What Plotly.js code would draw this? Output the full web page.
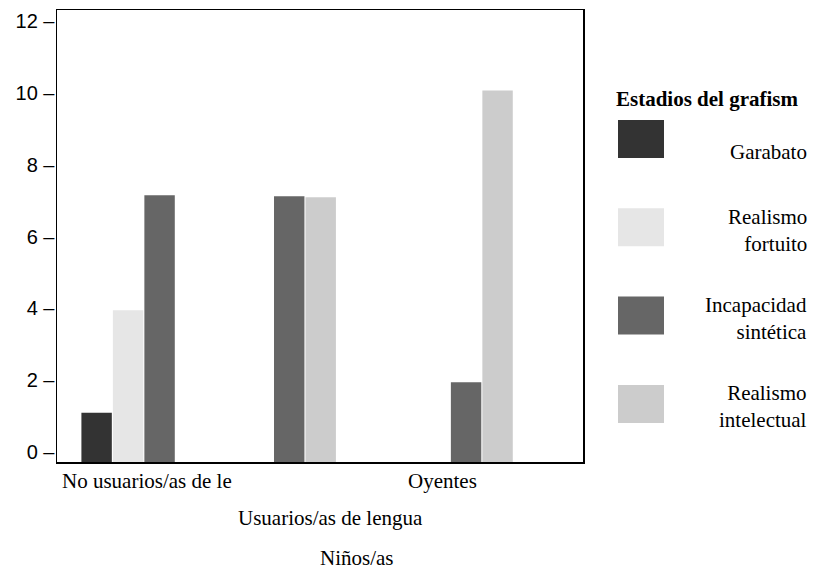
<!DOCTYPE html>
<html>
<head>
<meta charset="utf-8">
<script src="https://cdn.plot.ly/plotly-3.0.1.min.js"></script>
<style>
  html, body { margin: 0; padding: 0; background: #ffffff; }
  #chart { width: 813px; height: 575px; }
</style>
</head>
<body>
<div id="chart"></div>
<script>
// ---------- data ----------
const categories = ["No usuarios/as de le", "Usuarios/as de lengua", "Oyentes"];
const seriesNames = ["Garabato", "Realismo fortuito", "Incapacidad sintética", "Realismo intelectual"];
const garabato = [1.1, null, null];
const realismoFortuito = [3.95, null, null];
const incapacidadSintetica = [7.15, 7.12, 1.95];
const realismoIntelectual = [null, 7.09, 10.06];
const yTickValues = [0, 2, 4, 6, 8, 10, 12];
const xAxisTitle = "Niños/as";
const legendTitle = "Estadios del grafism";

// ---------- style ----------
const seriesColors = ["#333333", "#e6e6e6", "#666666", "#cccccc"];
const seriesValues = [garabato, realismoFortuito, incapacidadSintetica, realismoIntelectual];
const W = 813, H = 575;
const M = { l: 57, r: 230, t: 10, b: 113 };
const PW = W - M.l - M.r, PH = H - M.t - M.b;
const Y_MIN = -0.27, Y_MAX = 12.30;
const X_RANGE = [-0.402, 2.572];
const SLOT = 0.178, BAR_W = 0.172;
const serif = "'Liberation Serif', 'Times New Roman', serif";
const sans = "'Liberation Sans', Arial, sans-serif";

const px2x = px => (px - M.l) / PW;
const px2y = py => (H - M.b - py) / PH;

// present bars in each category are centred on the category position
const offsets = seriesValues.map(() => categories.map(() => 0));
categories.forEach((c, j) => {
  const present = seriesValues.map((s, i) => s[j] != null ? i : -1).filter(i => i >= 0);
  const n = present.length;
  present.forEach((i, k) => {
    offsets[i][j] = (k - n / 2) * SLOT + (SLOT - BAR_W) / 2;
  });
});

const traces = seriesNames.map((name, i) => ({
  type: "bar",
  name: name,
  x: categories,
  y: seriesValues[i].map(v => v == null ? null : v - Y_MIN),
  base: Y_MIN,
  width: BAR_W,
  offset: offsets[i],
  customdata: seriesValues[i],
  hovertemplate: "%{x}<br>" + name + ": %{customdata}<extra></extra>",
  marker: { color: seriesColors[i], line: { width: 0 } },
  showlegend: false
}));

// ---------- category labels (staggered) + axis title ----------
const labelCentersPx = [147, 330, 442];
const labelRowsPx = [481, 517.5, 481];
const annotations = categories.map((c, j) => ({
  xref: "paper", yref: "paper",
  x: px2x(labelCentersPx[j]), y: px2y(labelRowsPx[j]),
  xanchor: "center", yanchor: "middle",
  text: c, showarrow: false,
  font: { family: serif, size: 21, color: "#000" }
}));
annotations.push({
  xref: "paper", yref: "paper",
  x: px2x(357), y: px2y(558),
  xanchor: "center", yanchor: "middle",
  text: xAxisTitle, showarrow: false,
  font: { family: serif, size: 21, color: "#000" }
});

// ---------- legend (drawn manually) ----------
const shapes = [];
annotations.push({
  xref: "paper", yref: "paper",
  x: px2x(614), y: px2y(99),
  xanchor: "left", yanchor: "middle",
  text: "<b>" + legendTitle + "</b>", showarrow: false,
  font: { family: serif, size: 21, color: "#000" }
});
const swTop0 = 120, swStep = 88.3, swH = 38;
seriesNames.forEach((name, i) => {
  const top = swTop0 + swStep * i;
  shapes.push({
    type: "rect", xref: "paper", yref: "paper",
    x0: px2x(618), x1: px2x(664),
    y0: px2y(top + swH), y1: px2y(top),
    fillcolor: seriesColors[i], line: { width: 0 }
  });
  const lines = name.split(" ");
  const cy = top + swH / 2;
  annotations.push({
    xref: "paper", yref: "paper",
    x: px2x(809), y: px2y(lines.length > 1 ? cy + 3 : cy + 13),
    xanchor: "right", yanchor: "middle", align: "right",
    text: lines.join("<br>"), showarrow: false,
    font: { family: serif, size: 21, color: "#000" }
  });
});

const layout = {
  width: W, height: H,
  margin: M,
  paper_bgcolor: "#ffffff",
  plot_bgcolor: "#ffffff",
  barmode: "overlay",
  showlegend: false,
  xaxis: {
    type: "category",
    range: X_RANGE,
    showline: true, mirror: true, linecolor: "#000", linewidth: 1.5,
    showgrid: false, zeroline: false,
    ticks: "", showticklabels: false,
    fixedrange: true
  },
  yaxis: {
    range: [Y_MIN, Y_MAX],
    tickmode: "array", tickvals: yTickValues,
    ticktext: yTickValues.map(v => v + " –"),
    ticks: "",
    ticklabelstandoff: -3,
    tickfont: { family: sans, size: 20, color: "#000" },
    showline: true, mirror: true, linecolor: "#000", linewidth: 1.5,
    showgrid: false, zeroline: false,
    fixedrange: true
  },
  shapes: shapes,
  annotations: annotations
};

Plotly.newPlot("chart", traces, layout, { displayModeBar: false, staticPlot: true });
</script>
</body>
</html>
